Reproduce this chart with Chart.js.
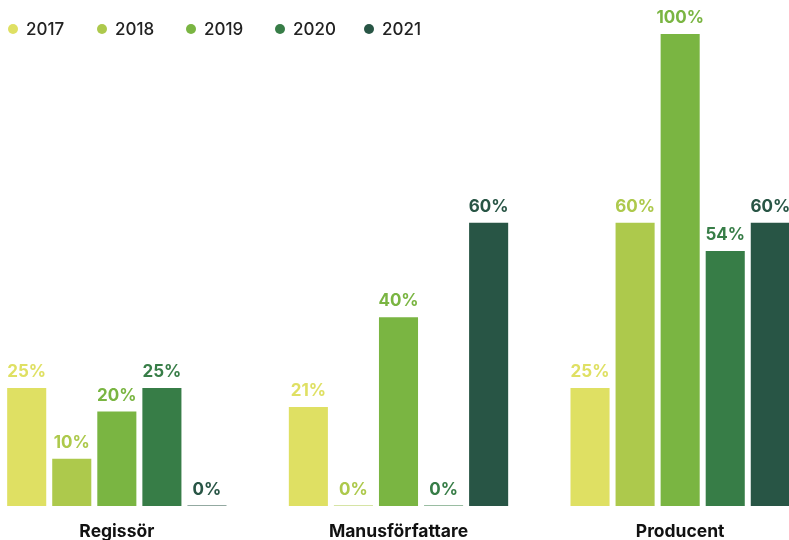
<!DOCTYPE html>
<html lang="sv">
<head>
  <meta charset="UTF-8" />
  <title>Andel per roll</title>
  <script src="https://cdn.jsdelivr.net/npm/chart.js"></script>
  <style>
    html, body {
      margin: 0;
      padding: 0;
      background: #fff;
      overflow: hidden;
      font-family: Inter, "Noto Sans", Arial, sans-serif;
    }
    #wrap {
      position: absolute;
      left: -24px;
      top: 0;
      width: 845px;
      height: 540px;
    }
    #legend {
      position: absolute;
      left: 8px;
      top: 19px;
      display: flex;
      z-index: 2;
    }
    .item {
      width: 89px;
      display: flex;
      align-items: center;
      font-size: 17px;
      font-weight: 500;
      color: #222;
    }
    .dot {
      width: 10px;
      height: 10px;
      border-radius: 50%;
      margin-right: 8px;
    }
  </style>
</head>
<body>
  <div id="legend"></div>
  <div id="wrap"><canvas id="chart"></canvas></div>

  <script>
    // roles on the x axis
    const categories = ['Regissör', 'Manusförfattare', 'Producent'];
    const years = ['2017', '2018', '2019', '2020', '2021'];
    const colors = ['#dfe063', '#adc94c', '#7ab542', '#377d47', '#285545'];

    // percent per year, one value per role
    const v2017 = [25, 21, 25];
    const v2018 = [10, 0, 60];
    const v2019 = [20, 40, 100];
    const v2020 = [25, 0, 54];
    const v2021 = [0, 60, 60];
    const series = [v2017, v2018, v2019, v2020, v2021];

    // draws the "25%" labels above each bar
    const valueLabels = {
      id: 'valueLabels',
      afterDatasetsDraw(chart) {
        const ctx = chart.ctx;
        ctx.save();
        ctx.font = 'bold 17px Inter, "Noto Sans", Arial, sans-serif';
        ctx.textAlign = 'center';
        ctx.textBaseline = 'middle';
        chart.data.datasets.forEach((ds, i) => {
          const meta = chart.getDatasetMeta(i);
          meta.data.forEach((bar, j) => {
            ctx.fillStyle = ds.backgroundColor;
            const top = Math.min(bar.y, bar.base);
            ctx.fillText(ds.data[j] + '%', bar.x, top - 16);
          });
        });
        ctx.restore();
      }
    };

    const chart = new Chart(document.getElementById('chart'), {
      type: 'bar',
      data: {
        labels: categories,
        datasets: years.map((y, i) => ({
          label: y,
          data: series[i],
          backgroundColor: colors[i],
          minBarLength: 0.5,
          barPercentage: 0.867,
          categoryPercentage: 0.8
        }))
      },
      options: {
        responsive: true,
        maintainAspectRatio: false,
        animation: false,
        layout: { padding: { top: 34, left: 0, right: 0, bottom: 0 } },
        plugins: {
          legend: { display: false },
          tooltip: { enabled: false }
        },
        scales: {
          x: {
            grid: { display: false, drawTicks: false },
            border: { display: false },
            afterFit(scale) { scale.height = 34; },
            ticks: {
              padding: 15,
              color: '#111',
              font: { family: 'Inter, "Noto Sans", Arial, sans-serif', size: 17.5, weight: 'bold' }
            }
          },
          y: {
            display: false,
            min: 0,
            max: 100
          }
        }
      },
      plugins: [valueLabels]
    });

    // html legend built from the datasets
    const legend = document.getElementById('legend');
    chart.data.datasets.forEach(ds => {
      const item = document.createElement('div');
      item.className = 'item';
      item.innerHTML = `<span class="dot" style="background:${ds.backgroundColor}"></span>${ds.label}`;
      legend.appendChild(item);
    });
  </script>
</body>
</html>
